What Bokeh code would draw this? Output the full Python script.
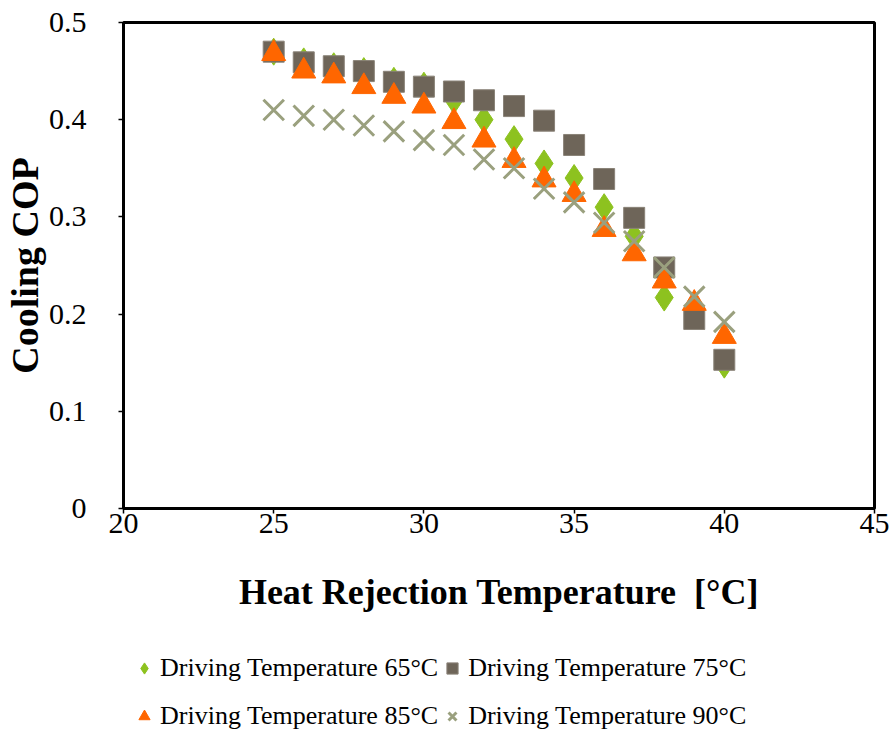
from bokeh.plotting import figure
from bokeh.layouts import column
from bokeh.models import Range1d, FixedTicker, NumeralTickFormatter, Legend, LegendItem
from bokeh.embed import file_html
from bokeh.resources import INLINE

temps = [25, 26, 27, 28, 29, 30, 31, 32, 33, 34, 35, 36, 37, 38, 39, 40]
cop_65 = [0.470, 0.460, 0.455, 0.450, 0.440, 0.435, 0.420, 0.400, 0.380, 0.355, 0.340, 0.310, 0.280, 0.217, 0.205, 0.148]
cop_75 = [0.470, 0.459, 0.455, 0.450, 0.439, 0.434, 0.429, 0.420, 0.414, 0.399, 0.374, 0.339, 0.299, 0.248, 0.195, 0.153]
cop_85 = [0.468, 0.450, 0.445, 0.434, 0.424, 0.414, 0.398, 0.379, 0.358, 0.338, 0.323, 0.287, 0.262, 0.234, 0.211, 0.177]
cop_90 = [0.410, 0.404, 0.400, 0.394, 0.388, 0.379, 0.374, 0.359, 0.350, 0.329, 0.315, 0.294, 0.275, 0.248, 0.218, 0.192]

labels = ["Driving Temperature 65°C", "Driving Temperature 75°C",
          "Driving Temperature 85°C", "Driving Temperature 90°C"]
x_ticks = [20, 25, 30, 35, 40, 45]
y_ticks = [0, 0.1, 0.2, 0.3, 0.4, 0.5]

FONT = "Liberation Serif"
series = [
    (cop_65, dict(marker="diamond", size=27, fill_color="#8DC21F", line_color="#8DC21F")),
    (cop_75, dict(marker="square", size=21, fill_color="#6E6559", line_color="#8A8378", line_width=1)),
    (cop_85, dict(marker="triangle", size=24, fill_color="#FF6600", line_color="#FF6600")),
    (cop_90, dict(marker="x", size=29, line_color="#9AA07E", line_width=3)),
]

# ---- main plot ----
p = figure(width=891, height=630, output_backend="svg", toolbar_location=None,
           x_range=Range1d(20, 45), y_range=Range1d(0, 0.5),
           min_border_left=120, min_border_right=17, min_border_top=22, min_border_bottom=122)
p.grid.visible = False
p.outline_line_color = "black"
p.outline_line_width = 3
p.background_fill_color = "white"
p.border_fill_color = "white"

for ys, style in series:
    p.scatter(temps, ys, **style)

for ax in (p.xaxis[0], p.yaxis[0]):
    ax.axis_line_width = 3
    ax.axis_line_color = "black"
    ax.major_tick_line_width = 1.5
    ax.major_tick_in = 0
    ax.major_tick_out = 5
    ax.minor_tick_line_color = None
    ax.major_label_text_font = FONT
    ax.major_label_text_font_size = "30px"
    ax.major_label_text_color = "black"
    ax.axis_label_text_font = FONT
    ax.axis_label_text_font_style = "bold"
    ax.axis_label_text_color = "black"

p.xaxis.ticker = FixedTicker(ticks=x_ticks)
p.yaxis.ticker = FixedTicker(ticks=y_ticks)
p.xaxis.formatter = NumeralTickFormatter(format="0")
p.yaxis.formatter = NumeralTickFormatter(format="0.[0]")
p.xaxis.axis_label = "Heat Rejection Temperature \u00a0[°C]"
p.yaxis.axis_label = "Cooling COP"
p.xaxis.axis_label_text_font_size = "36px"
p.yaxis.axis_label_text_font_size = "38px"
p.xaxis.major_label_standoff = 0
p.xaxis.axis_label_standoff = 36
p.yaxis.major_label_standoff = 32
p.yaxis.axis_label_standoff = 0

# ---- legend strip below ----
lf = figure(width=891, height=103, output_backend="svg", toolbar_location=None,
            x_range=Range1d(0, 1), y_range=Range1d(0, 1),
            x_axis_location=None, y_axis_location=None, min_border=0)
lf.grid.visible = False
lf.outline_line_color = None
lf.background_fill_color = "white"
lf.border_fill_color = "white"
leg_renderers = [lf.scatter(temps, ys, **style) for ys, style in series]

legend = Legend(items=[LegendItem(label=labels[0], renderers=[leg_renderers[0]]),
                       LegendItem(label=labels[1], renderers=[leg_renderers[1]]),
                       LegendItem(label=labels[2], renderers=[leg_renderers[2]]),
                       LegendItem(label=labels[3], renderers=[leg_renderers[3]])],
                location=(7, -7), orientation="horizontal", ncols=2,
                label_text_font=FONT, label_text_font_size="26px", label_text_color="black",
                glyph_width=28, glyph_height=36, label_standoff=2, spacing=0, label_height=48,
                padding=0, margin=0, border_line_color=None, background_fill_alpha=0)
lf.add_layout(legend, "center")

open("out.html", "w").write(file_html(column(p, lf), INLINE))
